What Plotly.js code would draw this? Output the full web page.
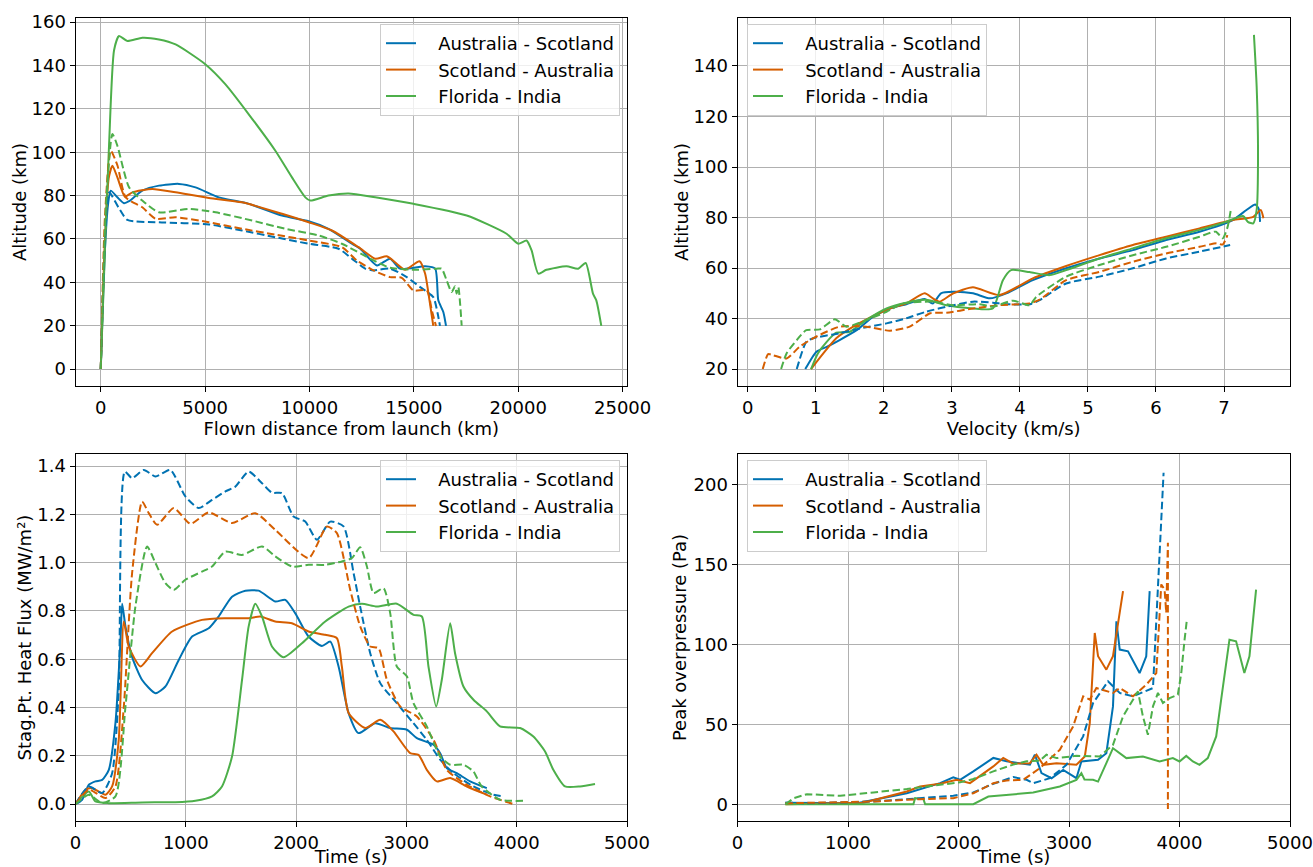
<!DOCTYPE html>
<html>
<head>
<meta charset="utf-8">
<script src="https://cdn.plot.ly/plotly-3.0.1.min.js"></script>
<style>html,body{margin:0;padding:0;background:#fff;}#chart{width:1313px;height:867px;}</style>
</head>
<body>
<div id="chart"></div>
<script>
// ---------- series names ----------
const routeNames = ["Australia - Scotland", "Scotland - Australia", "Florida - India"];

// ---------- Altitude vs flown distance (km, km) ----------
const distAS = [0,200,350,478,797,1115,1355,1990,2790,3745,4540,5655,7090,8685,9960,10910,12030,12430,13230,13860,14340,15540,16020,16170,16410,16540];
const altDistAS = [0,55,76,82.3,79.2,76.5,77.4,82.3,84.6,85.4,83.8,79.2,76.2,70.8,68.2,64.7,57.8,55.5,47.8,50.9,46.3,47.4,46.3,31.7,26.3,19.9];
const distSA = [0,200,380,558,797,1160,1515,2470,3585,5180,6770,8685,9960,11075,12350,13150,13700,14180,14580,15270,15540,15700,15930];
const altDistSA = [0,60,88,93.8,88.4,79.5,81.5,83.1,81.5,78.9,76.9,71.6,67.7,63.9,56.2,50.9,52,48.6,45.8,49.7,44,34.8,19.9];
const distFI = [0,200,400,637,875,1275,1990,2790,3585,5020,5975,7090,8365,9160,9800,10040,10910,11870,13150,14980,17530,19440,20000,20400,20640,20960,21350,22310,22870,23230,23580,23740,23980];
const altDistFI = [0,55,104,147,153.6,151.3,152.8,152,149.7,140.5,131.3,117.5,100.7,88.4,79.2,77.7,80,81,79.2,76.2,70.8,62.4,57.8,59.3,54.7,44,45.8,47.4,46.3,48.9,34.8,31.7,19.9];
const distASd = [0,200,400,846,1275,2790,5180,6770,8365,9960,11390,12030,12670,13070,13860,14660,15300,15930,16140,16250];
const altDistASd = [0,60,81.5,74.6,68.8,67.7,66.7,63.9,60.8,57.8,55.5,50.9,46.3,45.5,46.3,42.4,37.8,33.2,25.6,19.9];
const distSAd = [0,200,478,797,1195,1990,2630,3585,5180,6770,8365,9960,11550,12270,13070,13860,14420,14980,15620,15860,16060];
const altDistSAd = [0,70,100.7,94,79.2,74.6,69.3,70,67.7,64.7,62,59.3,56.2,50.1,45.5,42.4,42.1,36.3,36.3,27.1,19.9];
const distFId = [0,250,558,797,1355,1990,2790,4220,5500,7250,8845,10435,11550,13070,13860,15140,16090,16330,16570,16810,16970,17050,17130,17290];
const altDistFId = [0,75,108.4,103,83.8,77.7,72.3,73.9,72.3,68.5,64.7,61.6,57.8,50.1,46.7,45.8,46.3,46.3,40.9,35.5,38.2,34.8,37.8,20];

// ---------- Altitude vs velocity (km/s, km) ----------
const velAS = [0.845,1.01,1.16,1.35,1.60,1.84,2.09,2.33,2.60,2.72,2.84,3.02,3.31,3.56,3.80,4.19,4.68,5.17,5.66,6.15,6.64,7.13,7.33,7.46,7.51,7.53];
const altVelAS = [20,26.9,28.8,31.5,35.4,40.7,44,45.7,47.7,46,50,50.6,50,48,50,55.2,59.9,63.8,67.1,71.1,74.4,79,83,85.2,83.4,78.3];
const velSA = [0.93,1.11,1.30,1.55,1.84,2.09,2.33,2.60,2.72,2.82,3.02,3.31,3.70,4.19,4.68,5.17,5.66,6.15,6.64,7.13,7.43,7.54,7.58];
const altVelSA = [20,26.2,32.2,36.8,41,44,46,50,48,46.7,50,52.4,49.3,55.9,60.8,65.1,69.1,72.4,75.7,79,80.3,83,79.7];
const velFI = [0.93,1.03,1.16,1.30,1.50,1.74,2.04,2.33,2.62,2.92,3.31,3.60,3.75,3.87,4.14,4.44,4.68,5.17,5.66,6.15,6.64,7.03,7.28,7.35,7.43,7.48,7.50,7.48,7.44];
const altVelFI = [20,26.2,30.8,34.4,34.8,39.4,44,46.3,47.4,45.3,44,44,55.2,59.2,58.4,57.2,59.2,63.8,67.8,71.8,75.1,78.3,80.6,78.3,77.7,83,105.4,131.8,152.3];
const velASd = [0.72,0.86,0.96,1.35,1.65,2.04,2.33,2.62,3.02,3.31,3.60,3.80,4.15,4.29,4.68,5.17,5.66,6.15,6.64,7.09];
const altVelASd = [20,30.8,32.2,34.2,36.1,38.1,40.1,42.7,45.3,46.7,46.3,45.7,45.7,47.3,53.9,56.6,59.9,63.8,66.5,69.1];
const velSAd = [0.22,0.30,0.37,0.57,0.76,0.96,1.35,1.74,2.09,2.38,2.68,2.92,3.31,3.70,4.14,4.29,4.68,5.17,5.66,6.15,6.64,6.89,6.98,7.05];
const altVelSAd = [20,25.9,25.5,24.2,28.8,32.2,36.8,36.8,35.2,36.8,42.1,42.3,44,45.3,46,47.5,55.2,58.5,62.5,65.8,68.4,69.8,69.3,73];
const velFId = [0.49,0.57,0.72,0.86,1.06,1.28,1.45,1.74,2.04,2.28,2.72,3.02,3.40,3.60,3.90,4.14,4.24,4.68,5.17,5.66,6.15,6.64,6.88,6.98,7.05,7.10];
const altVelFId = [20,26.2,31.5,35.4,35.7,39.7,36.8,39.4,42.7,46,46.7,45.3,45.7,44.7,47.1,45.3,48.6,56.6,61.2,65.1,68.4,72.4,74.4,71.8,76,83];

// ---------- Stagnation point heat flux vs time (s, MW/m²) ----------
const tHfAS = [0,60,121,181,242,302,362,408,423,453,513,604,725,815,936,1057,1208,1298,1419,1540,1660,1811,1902,1993,2113,2234,2310,2385,2476,2566,2717,2853,3004,3095,3246,3306,3366,3457,3578,3729];
const hfAS = [0,0.018,0.08,0.094,0.1,0.142,0.335,0.68,0.83,0.735,0.61,0.514,0.459,0.487,0.597,0.694,0.728,0.777,0.859,0.884,0.884,0.839,0.846,0.79,0.694,0.655,0.673,0.57,0.377,0.294,0.335,0.315,0.308,0.273,0.246,0.211,0.149,0.128,0.094,0.066];
const tHfSA = [0,91,151,272,332,392,438,483,589,694,876,1147,1359,1570,1676,1811,1962,2113,2264,2370,2415,2476,2627,2763,2883,3034,3110,3185,3276,3397,3548,3729];
const hfSA = [0,0.059,0.066,0.039,0.073,0.266,0.756,0.652,0.57,0.625,0.715,0.763,0.77,0.77,0.777,0.756,0.749,0.715,0.701,0.687,0.57,0.377,0.315,0.349,0.301,0.211,0.204,0.142,0.094,0.108,0.073,0.039];
const tHfFI = [0,121,181,302,604,906,1087,1238,1328,1419,1510,1570,1630,1691,1781,1887,2053,2264,2476,2596,2732,2913,3064,3140,3200,3270,3321,3397,3441,3517,3608,3729,3849,4031,4151,4257,4332,4438,4574,4710];
const hfFI = [0,0.052,0.011,0.004,0.007,0.008,0.014,0.032,0.073,0.197,0.515,0.736,0.83,0.777,0.653,0.608,0.666,0.756,0.818,0.83,0.818,0.83,0.784,0.777,0.57,0.404,0.515,0.749,0.625,0.487,0.432,0.384,0.322,0.315,0.28,0.218,0.142,0.073,0.073,0.083];
const tHfASd = [0,121,242,332,392,447,513,619,725,860,996,1117,1238,1359,1449,1570,1691,1781,1872,1977,2083,2189,2310,2430,2521,2581,2672,2763,2913,3064,3185,3306,3427,3608,3789,3880];
const hfASd = [0,0.073,0.046,0.128,0.473,1.377,1.35,1.384,1.357,1.384,1.274,1.226,1.26,1.295,1.315,1.377,1.329,1.29,1.288,1.191,1.17,1.095,1.17,1.15,0.957,0.818,0.625,0.501,0.418,0.335,0.266,0.184,0.128,0.073,0.039,0.032];
const tHfSAd = [0,121,272,362,438,513,604,664,740,891,1042,1208,1419,1630,1811,2113,2280,2370,2491,2581,2672,2747,2823,2944,3095,3246,3366,3548,3759,3970];
const hfSAd = [0,0.06,0.025,0.073,0.404,0.956,1.253,1.205,1.157,1.226,1.161,1.208,1.164,1.205,1.136,1.019,1.15,1.122,0.887,0.736,0.653,0.646,0.515,0.404,0.363,0.266,0.142,0.08,0.032,0];
const tHfFId = [0,121,242,362,453,543,649,725,815,891,996,1147,1238,1359,1510,1691,1811,1962,2113,2264,2415,2506,2581,2642,2702,2793,2853,2913,3004,3064,3185,3306,3397,3517,3608,3683,3849,4091];
const hfFId = [0,0.039,0.004,0.032,0.404,0.818,1.067,0.998,0.915,0.887,0.929,0.963,0.984,1.046,1.032,1.067,1.026,0.984,0.991,0.991,1.005,1.019,1.064,0.984,0.874,0.894,0.791,0.57,0.529,0.418,0.322,0.197,0.163,0.163,0.135,0.073,0.018,0.014];

// ---------- Peak overpressure vs time (s, Pa) ----------
const tOpAS = [433,1080,1532,1833,1953,2014,2134,2315,2435,2555,2646,2691,2751,2842,2947,3067,3112,3263,3338,3398,3429,3459,3534,3639,3699,3730];
const opAS = [1,0.6,6.9,13.2,16.8,15.3,20.6,29,26.9,25.8,24.8,31.1,19.5,16.3,21.5,16.3,26.8,27.8,32,61.3,114.6,96.9,95.8,82.2,92.7,133.5];
const tOpSA = [433,1140,1532,1652,1833,1984,2104,2315,2405,2495,2646,2706,2766,2887,3067,3143,3188,3233,3263,3338,3398,3489];
const opSA = [0,1,8,11.1,12.8,15.3,13.2,23.7,29,25.4,25.7,31,24.7,25.7,24.7,29.9,50.8,107.3,92.7,84.3,92.7,133.5];
const tOpFI = [433,930,1592,1607,1683,1698,2134,2270,2435,2676,2917,3067,3112,3140,3218,3263,3338,3398,3519,3669,3820,3940,4000,4061,4121,4181,4256,4332,4377,4452,4512,4587,4633,4693];
const opFI = [0,0,0,3.8,3.2,0,0,4.8,5.9,7.3,11.1,15.3,19.5,15.5,15.3,14.2,25.7,35.1,28.9,29.9,26.8,28.9,26.8,30.3,26.8,24.7,28.9,42.5,65.5,103.1,102.1,82.2,92.7,134.5];
const tOpASd = [433,629,1231,1652,1953,2134,2315,2495,2616,2676,2827,2977,3128,3218,3353,3459,3579,3760,3805,3856];
const opASd = [1,0.6,1.7,3.8,5.3,7.4,12.8,17,15.3,13.2,16.3,24.7,42.5,63.4,77,69.7,67.6,72.8,134.5,207.7];
const tOpSAd = [433,1231,1652,1953,2134,2315,2435,2586,2736,2917,3037,3128,3188,3248,3398,3459,3579,3699,3790,3835,3865,3880,3895,3895];
const opSAd = [0.6,1.7,3.2,3.8,6.9,13.2,14.9,15.3,22.6,34.1,48.7,67.6,65.5,72.8,69.7,72.8,67.6,74.9,82.2,137.7,134.5,119.9,163.8,-3];
const tOpFId = [433,509,629,930,1231,1532,1833,2014,2134,2315,2495,2616,2736,2796,2887,3067,3278,3398,3489,3579,3624,3669,3714,3760,3805,3850,3910,3985,4016,4046,4067];
const opFId = [0,3.8,6.3,5.3,7.4,9.5,12.2,13.7,15.8,20.6,24.8,26.9,27.3,31,28.9,30.3,29.9,37.2,55,65.5,70.7,55,43.5,61.3,69.7,63.4,66.5,68.6,82.2,103.1,115.7];

// ---------- styling ----------
const colors = ["#0072B2", "#D55E00", "#4DAF4A"];
const FONT = "DejaVu Sans, Liberation Sans, sans-serif";
const DASH = "7.5px,3.5px";
const PAD = "\u00a0\u00a0\u00a0";

const panels = [
  {xa: "x",  ya: "y",  lg: "legend",  shape: "spline",
   solid: [[distAS, altDistAS], [distSA, altDistSA], [distFI, altDistFI]],
   dashed: [[distASd, altDistASd], [distSAd, altDistSAd], [distFId, altDistFId]]},
  {xa: "x2", ya: "y2", lg: "legend2", shape: "spline",
   solid: [[velAS, altVelAS], [velSA, altVelSA], [velFI, altVelFI]],
   dashed: [[velASd, altVelASd], [velSAd, altVelSAd], [velFId, altVelFId]]},
  {xa: "x3", ya: "y3", lg: "legend3", shape: "spline",
   solid: [[tHfAS, hfAS], [tHfSA, hfSA], [tHfFI, hfFI]],
   dashed: [[tHfASd, hfASd], [tHfSAd, hfSAd], [tHfFId, hfFId]]},
  {xa: "x4", ya: "y4", lg: "legend4", shape: "linear",
   solid: [[tOpAS, opAS], [tOpSA, opSA], [tOpFI, opFI]],
   dashed: [[tOpASd, opASd], [tOpSAd, opSAd], [tOpFId, opFId]]}
];

const traces = [];
panels.forEach(p => {
  p.solid.forEach((s, i) => traces.push({
    x: s[0], y: s[1], xaxis: p.xa, yaxis: p.ya, mode: "lines", name: PAD + routeNames[i],
    legend: p.lg, showlegend: true,
    line: {color: colors[i], width: 2, shape: p.shape, smoothing: 0.6}
  }));
  p.dashed.forEach((s, i) => traces.push({
    x: s[0], y: s[1], xaxis: p.xa, yaxis: p.ya, mode: "lines", name: routeNames[i] + " (dashed)",
    legend: p.lg, showlegend: false,
    line: {color: colors[i], width: 2, dash: DASH, shape: p.shape, smoothing: 0.6}
  }));
});

const W = 1313, H = 867;
const xL = [75.5 / W, 627 / W], xR = [737.5 / W, 1290 / W];
const yT = [1 - 386 / H, 1 - 18 / H], yB = [1 - 821 / H, 1 - 454 / H];

function ax(domain, range, dtick, title, anchor, standoff, extra) {
  return Object.assign({
    domain: domain, range: range, dtick: dtick, tick0: 0, anchor: anchor,
    showline: true, mirror: true, linecolor: "#000", linewidth: 1,
    ticks: "outside", ticklen: 5, tickcolor: "#000", tickwidth: 1,
    showgrid: true, gridcolor: "#b0b0b0", gridwidth: 1, zeroline: false,
    tickfont: {family: FONT, size: 18, color: "#000"},
    title: {text: title, font: {family: FONT, size: 18, color: "#000"}, standoff: standoff},
    automargin: false
  }, extra || {});
}

function leg(x, xanchor, y) {
  return {
    x: x, xanchor: xanchor, y: y, yanchor: "top", xref: "paper", yref: "paper",
    bgcolor: "rgba(255,255,255,0.8)", bordercolor: "#cccccc", borderwidth: 1,
    font: {family: FONT, size: 18, color: "#000"}, traceorder: "normal"
  };
}

const layout = {
  width: W, height: H,
  margin: {l: 0, r: 0, t: 0, b: 0},
  paper_bgcolor: "#fff", plot_bgcolor: "#fff",
  font: {family: FONT, size: 18, color: "#000"},
  xaxis:  ax(xL, [-1210, 25210], 5000, "Flown distance from launch (km)", "y", 0, {tickformat: "d"}),
  yaxis:  ax(yT, [-7.8, 161.9], 20, "Altitude (km)", "x", 0),
  xaxis2: ax(xR, [-0.151, 7.97], 1, "Velocity (km/s)", "y2", 0),
  yaxis2: ax(yT, [13.3, 159], 20, "Altitude (km)", "x2", 0),
  xaxis3: ax(xL, [0, 5000], 1000, "Time (s)", "y3", 4, {tickformat: "d"}),
  yaxis3: ax(yB, [-0.070, 1.45], 0.2, "Stag.Pt. Heat Flux (MW/m²)", "x3", 0, {tickformat: ".1f"}),
  xaxis4: ax(xR, [0, 5000], 1000, "Time (s)", "y4", 4, {tickformat: "d"}),
  yaxis4: ax(yB, [-10.5, 219.4], 50, "Peak overpressure (Pa)", "x4", 2),
  legend:  leg(620 / W, "right", 1 - 24 / H),
  legend2: leg(747 / W, "left", 1 - 24 / H),
  legend3: leg(620 / W, "right", 1 - 460 / H),
  legend4: leg(747 / W, "left", 1 - 460 / H)
};

Plotly.newPlot("chart", traces, layout, {displayModeBar: false, staticPlot: true});
</script>
</body>
</html>
